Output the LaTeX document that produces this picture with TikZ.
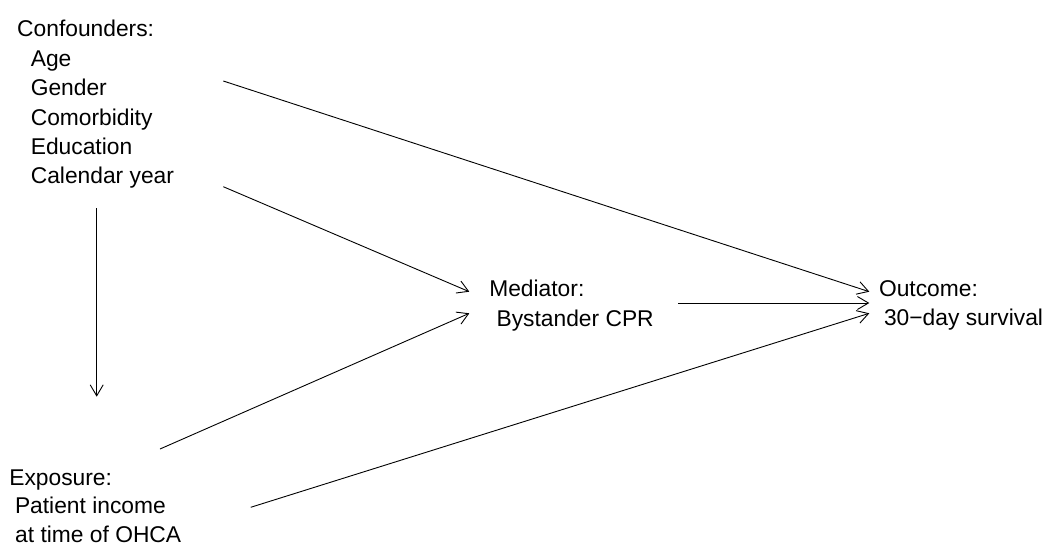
\documentclass[tikz,border=0pt]{standalone}
\usepackage{fontspec}
\setmainfont{Liberation Sans}
\usetikzlibrary{arrows.meta}
\begin{document}
\begin{tikzpicture}[x=1pt,y=-1pt,
  lbl/.style={anchor=base west,inner sep=0pt,outer sep=0pt,font=\fontsize{22.8}{27}\selectfont},
  conn/.style={draw=black,line width=0.9pt,-{Straight Barb[length=11pt,width=13pt,line width=0.9pt]}}]
\useasboundingbox (0,0) rectangle (1048,546);
% Confounders
\node[lbl] (conf0) at (17.2,36.7) {Confounders:};
\node[lbl] (conf1) at (30.8,66.1) {Age};
\node[lbl] (conf2) at (30.8,95.6) {Gender};
\node[lbl] (conf3) at (30.8,125.0) {Comorbidity};
\node[lbl] (conf4) at (30.8,154.5) {Education};
\node[lbl] (conf5) at (30.8,183.9) {Calendar year};
% Mediator
\node[lbl] (med0) at (489.3,296.7) {Mediator:};
\node[lbl] (med1) at (496.6,326.0) {Bystander CPR};
% Outcome
\node[lbl] (out0) at (879,296.2) {Outcome:};
\node[lbl] (out1) at (884,325.7) {30−day survival};
% Exposure
\node[lbl] (exp0) at (9.3,485.0) {Exposure:};
\node[lbl] (exp1) at (15.0,513.5) {Patient income};
\node[lbl] (exp2) at (15.2,542.0) {at time of OHCA};
% connector endpoints
\coordinate (cA) at (223.3,81.0);
\coordinate (cB) at (223.3,186.7);
\coordinate (cV) at (96.7,208.3);
\coordinate (eA) at (160.0,449.0);
\coordinate (eB) at (250.7,507.3);
\coordinate (mS) at (678.3,303.0);
\coordinate (mT1) at (469.3,291.7);
\coordinate (mT2) at (469.3,313.3);
\coordinate (oT1) at (869.3,291.7);
\coordinate (oT2) at (869.3,303.0);
\coordinate (oT3) at (869.3,313.3);
\coordinate (vT) at (96.7,396.7);
\draw[conn] (cA) -- (oT1);
\draw[conn] (cB) -- (mT1);
\draw[conn] (cV) -- (vT);
\draw[conn] (eA) -- (mT2);
\draw[conn] (mS) -- (oT2);
\draw[conn] (eB) -- (oT3);
\end{tikzpicture}
\end{document}
